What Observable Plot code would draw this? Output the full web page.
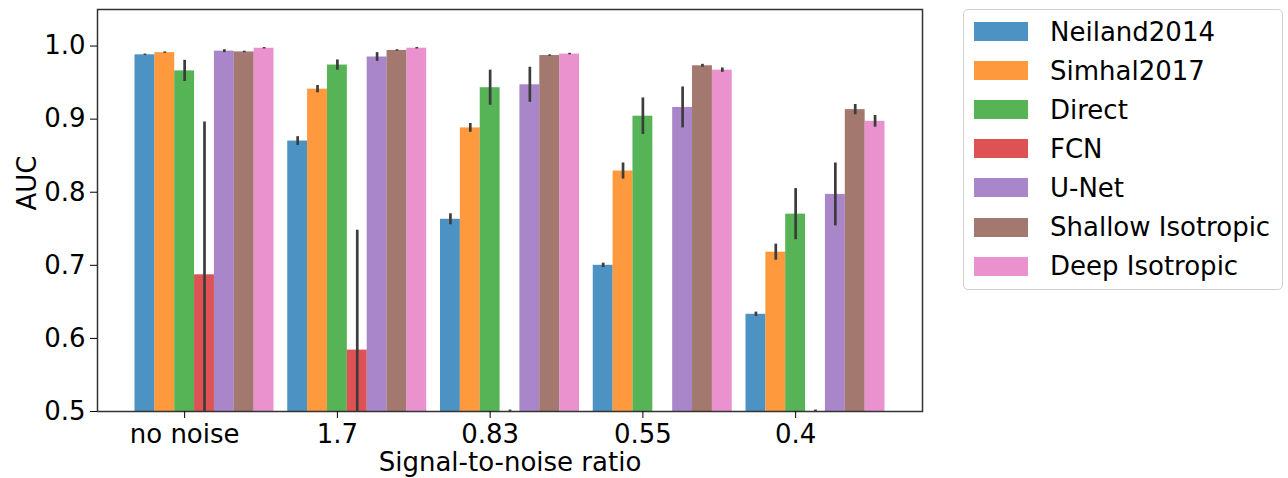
<!DOCTYPE html>
<html>
<head>
<meta charset="utf-8">
<script src="https://cdn.jsdelivr.net/npm/d3@7"></script>
<script src="https://cdn.jsdelivr.net/npm/@observablehq/plot@0.6"></script>
<style>
  html, body { margin: 0; padding: 0; background: #fff; }
  #wrap { position: relative; width: 1288px; height: 478px; font-family: "DejaVu Sans", sans-serif; }
  #chart { position: absolute; left: 0; top: 0; }
  #legend { position: absolute; left: 963px; top: 9px; width: 320px; height: 281px; box-sizing: border-box;
            border: 1px solid #d0d0d0; border-radius: 5px; background: #fff; }
  .item { position: absolute; left: 10px; height: 39px; display: flex; align-items: center; font-size: 26px; color: #000; white-space: nowrap; }
  .sw { width: 54px; height: 19px; margin-right: 22px; }
</style>
</head>
<body>
<div id="wrap"><div id="chart"></div><div id="legend"></div></div>
<script>
const groups = ["no noise", "1.7", "0.83", "0.55", "0.4"];
const methods = ["Neiland2014", "Simhal2017", "Direct", "FCN", "U-Net", "Shallow Isotropic", "Deep Isotropic"];
const colors = ["#1f77b4", "#ff7f0e", "#2ca02c", "#d62728", "#9467bd", "#8c564b", "#e377c2"];
const yTicks = [0.5, 0.6, 0.7, 0.8, 0.9, 1.0];

// AUC values per method, one per signal-to-noise group
const neiland2014 = [0.988, 0.870, 0.763, 0.700, 0.633];
const simhal2017  = [0.991, 0.941, 0.888, 0.829, 0.718];
const direct      = [0.966, 0.974, 0.943, 0.904, 0.770];
const fcn         = [0.687, 0.584, 0.500, null, 0.500];
const unet        = [0.993, 0.985, 0.947, 0.916, 0.797];
const shallowIso  = [0.992, 0.994, 0.987, 0.973, 0.913];
const deepIso     = [0.997, 0.997, 0.989, 0.967, 0.897];

// error bar half-lengths
const neiland2014Err = [0.001, 0.006, 0.0075, 0.003, 0.003];
const simhal2017Err  = [0.001, 0.005, 0.006, 0.011, 0.011];
const directErr      = [0.0145, 0.007, 0.024, 0.025, 0.035];
const fcnErr         = [0.209, 0.164, 0.002, null, 0.002];
const unetErr        = [0.002, 0.006, 0.024, 0.028, 0.043];
const shallowIsoErr  = [0.001, 0.001, 0.001, 0.002, 0.007];
const deepIsoErr     = [0.001, 0.001, 0.001, 0.003, 0.008];

const values = [neiland2014, simhal2017, direct, fcn, unet, shallowIso, deepIso];
const errs = [neiland2014Err, simhal2017Err, directErr, fcnErr, unetErr, shallowIsoErr, deepIsoErr];

const w = 0.13;
const rows = [];
methods.forEach((m, k) => {
  groups.forEach((g, i) => {
    if (values[k][i] == null) return;
    rows.push({g: i, k, method: m, v: values[k][i], e: errs[k][i]});
  });
});

const lo = -2.5 * w, hi = groups.length - 1 + 4.5 * w, pad = (hi - lo) * 0.05;

const chart = Plot.plot({
  width: 950,
  height: 478,
  marginLeft: 97,
  marginRight: 28,
  marginTop: 9,
  marginBottom: 67,
  style: {fontFamily: "DejaVu Sans", fontSize: "26px", color: "#000", background: "#fff"},
  x: {type: "linear", domain: [lo - pad, hi + pad]},
  y: {domain: [0.5, 1.05]},
  color: {domain: methods, range: colors},
  marks: [
    Plot.rectY(rows, {
      x1: d => d.g + (d.k - 2.5) * w,
      x2: d => d.g + (d.k - 1.5) * w,
      y1: 0,
      y2: "v",
      fill: "method",
      fillOpacity: 0.8,
      clip: true
    }),
    Plot.ruleX(rows, {
      x: d => d.g + (d.k - 2) * w,
      y1: d => d.v - d.e,
      y2: d => d.v + d.e,
      stroke: "#3c3c3c",
      strokeWidth: 2.7,
      clip: true
    }),
    Plot.frame({stroke: "#333", strokeWidth: 1.5}),
    Plot.axisX(d3.range(groups.length), {
      tickFormat: i => groups[i], tickSize: 7, tickPadding: 6, label: null, fontSize: 26, stroke: "#000"
    }),
    Plot.axisY(yTicks, {
      tickFormat: d => d.toFixed(1), tickSize: 7, tickPadding: 5, label: null, fontSize: 26, stroke: "#000"
    }),
    Plot.text(["AUC"], {frameAnchor: "left", dx: -70, rotate: -90, fontSize: 26, fill: "#000"}),
    Plot.text(["Signal-to-noise ratio"], {frameAnchor: "bottom", dy: 51, lineAnchor: "middle", fontSize: 26, fill: "#000"})
  ]
});
document.getElementById("chart").appendChild(chart);

const legend = document.getElementById("legend");
methods.forEach((m, k) => {
  const item = document.createElement("div");
  item.className = "item";
  item.style.top = (2 + k * 39.1) + "px";
  const sw = document.createElement("div");
  sw.className = "sw";
  sw.style.background = colors[k];
  sw.style.opacity = 0.8;
  const label = document.createElement("span");
  label.textContent = m;
  item.appendChild(sw);
  item.appendChild(label);
  legend.appendChild(item);
});
</script>
</body>
</html>
